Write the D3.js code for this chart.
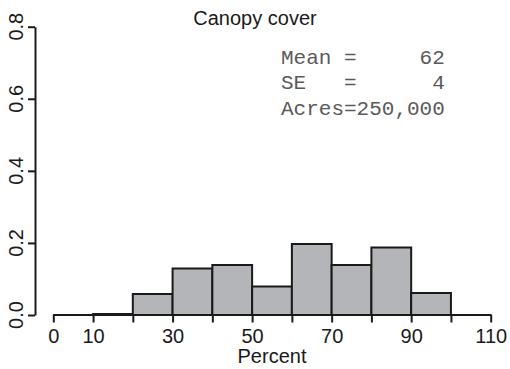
<!DOCTYPE html>
<html>
<head>
<meta charset="utf-8">
<script src="https://cdn.jsdelivr.net/npm/d3@7/dist/d3.min.js"></script>
<style>
  html, body { margin: 0; padding: 0; background: #fff; }
  svg { display: block; }
</style>
</head>
<body>
<script>
// ---- data ----
const binStarts = [0, 10, 20, 30, 40, 50, 60, 70, 80, 90, 100];
const binWidth = 10;
const density = [0, 0.003, 0.058, 0.129, 0.139, 0.079, 0.197, 0.139, 0.187, 0.061, 0];
const xTicks = [0, 10, 20, 30, 40, 50, 60, 70, 80, 90, 100, 110];
const xTickLabels = ["0", "10", "", "30", "", "50", "", "70", "", "90", "", "110"];
const yTicks = [0, 0.2, 0.4, 0.6, 0.8];
const yTickLabels = ["0.0", "0.2", "0.4", "0.6", "0.8"];
const title = "Canopy cover";
const xTitle = "Percent";
const statLines = ["Mean =     62", "SE   =      4", "Acres=250,000"];

// ---- layout ----
const W = 510, H = 369;
const svg = d3.select("body").append("svg").attr("width", W).attr("height", H);

const x = d3.scaleLinear().domain([0, 110]).range([53.3, 490.7]);
const y = d3.scaleLinear().domain([0, 0.8]).range([315, 26.7]);

const sans = "'Liberation Sans', Arial, Helvetica, sans-serif";
const mono = "'Liberation Mono', 'Courier New', monospace";

// bars (drawn as paths so zero-height bins still show their outline)
svg.append("g").selectAll("path")
  .data(binStarts.map((s, i) => ({ s, v: density[i] })))
  .join("path")
  .attr("d", d => {
    const x0 = x(d.s), x1 = x(d.s + binWidth), y0 = y(0), y1 = y(d.v);
    return `M${x0},${y0}V${y1}H${x1}V${y0}Z`;
  })
  .attr("fill", "#b4b5b9")
  .attr("stroke", "#1a1a1a")
  .attr("stroke-width", 2);

// x axis
const xAxis = d3.axisBottom(x)
  .tickValues(xTicks)
  .tickSize(8)
  .tickSizeOuter(0)
  .tickFormat((d, i) => xTickLabels[i]);
const gx = svg.append("g").attr("transform", `translate(0,${y(0) - 0.5})`).call(xAxis);
gx.select(".domain").attr("stroke", "#1a1a1a").attr("stroke-width", 2);
gx.selectAll(".tick line").attr("stroke", "#1a1a1a").attr("stroke-width", 2);
gx.selectAll(".tick text")
  .attr("fill", "#1a1a1a")
  .attr("font-family", sans)
  .attr("font-size", 20)
  .attr("y", 14)
  .attr("dy", "0.71em");

// y axis
const yAxis = d3.axisLeft(y)
  .tickValues(yTicks)
  .tickSize(7)
  .tickSizeOuter(0)
  .tickFormat("");
const gy = svg.append("g").attr("transform", "translate(35,0)").call(yAxis);
gy.select(".domain").attr("stroke", "#1a1a1a").attr("stroke-width", 2);
gy.selectAll(".tick line").attr("stroke", "#1a1a1a").attr("stroke-width", 2);

svg.append("g").selectAll("text")
  .data(yTicks)
  .join("text")
  .attr("transform", d => `translate(23,${y(d)}) rotate(-90)`)
  .attr("text-anchor", "middle")
  .attr("font-family", sans)
  .attr("font-size", 20)
  .attr("fill", "#1a1a1a")
  .text((d, i) => yTickLabels[i]);

// title
svg.append("text")
  .attr("x", 255).attr("y", 25)
  .attr("text-anchor", "middle")
  .attr("font-family", sans)
  .attr("font-size", 20)
  .attr("fill", "#1a1a1a")
  .text(title);

// x title
svg.append("text")
  .attr("x", 272).attr("y", 363)
  .attr("text-anchor", "middle")
  .attr("font-family", sans)
  .attr("font-size", 20)
  .attr("fill", "#1a1a1a")
  .text(xTitle);

// stats text
svg.append("g").selectAll("text")
  .data(statLines)
  .join("text")
  .attr("x", 281)
  .attr("y", (d, i) => 63.5 + i * 25.5)
  .attr("font-family", mono)
  .attr("font-size", 21)
  .attr("fill", "#5a5a5a")
  .style("white-space", "pre")
  .attr("xml:space", "preserve")
  .text(d => d);
</script>
</body>
</html>
